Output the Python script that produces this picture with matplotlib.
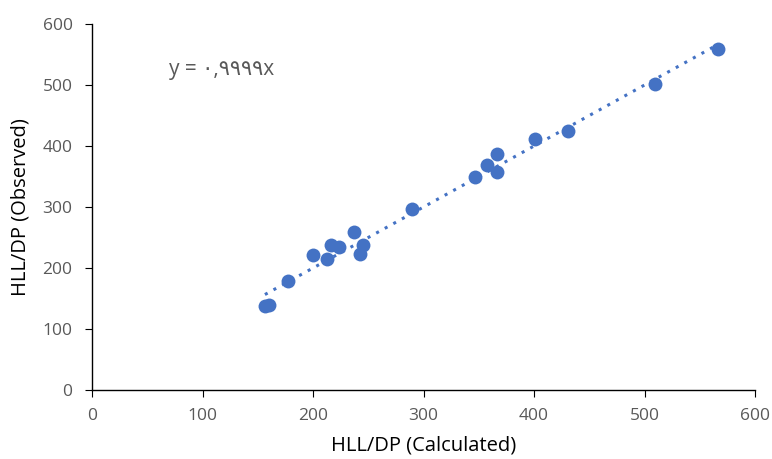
import numpy as np
import matplotlib
matplotlib.use('Agg')
import matplotlib.pyplot as plt

plt.rcParams['font.family'] = ['Open Sans', 'DejaVu Sans']

calculated = [156.5, 160, 177.5, 200, 212.5, 216.5, 223.5, 237, 242.5, 245, 289.5,
              347, 357.5, 366.5, 366.5, 401, 431, 509.5, 566.5]
observed = [137, 140, 178.5, 221, 214.5, 237.5, 234, 259, 223.5, 237.5, 296.5,
            348.5, 369, 387, 357, 412, 424, 501.5, 559]
slope = 0.9999
eq_label = 'y = ٠,٩٩٩٩x'

blue = '#4472C4'
gray = '#595959'

fig = plt.figure(figsize=(7.72, 4.59), dpi=100)
ax = fig.add_axes([92 / 772, 1 - 390 / 459, (755 - 92) / 772, (390 - 24) / 459])

ax.scatter(calculated, observed, s=100, color=blue, zorder=3, linewidths=0)

xs = np.array([min(calculated), max(calculated)])
ax.plot(xs, slope * xs, linestyle=(0, (1, 2.2)), color=blue, linewidth=2.2, zorder=2)

ax.set_xlim(0, 600)
ax.set_ylim(0, 600)
ax.set_xticks(range(0, 601, 100))
ax.set_yticks(range(0, 601, 100))
for s in ['top', 'right']:
    ax.spines[s].set_visible(False)
for s in ['left', 'bottom']:
    ax.spines[s].set_color('#000000')
    ax.spines[s].set_linewidth(1.0)
ax.tick_params(direction='out', length=5, color='#000000', labelsize=12.5,
               labelcolor=gray)
ax.tick_params(axis='y', pad=9)
ax.tick_params(axis='x', pad=8)

ax.set_xlabel('HLL/DP (Calculated)', fontsize=14.5, color='#000000', labelpad=8)
ax.set_ylabel('HLL/DP (Observed)', fontsize=14.5, color='#000000', labelpad=9)

ax.text(70, 526, eq_label, fontsize=15, color=gray, ha='left', va='center',
        family=['Open Sans', 'DejaVu Sans'])

fig.savefig('out.png', dpi=100)
